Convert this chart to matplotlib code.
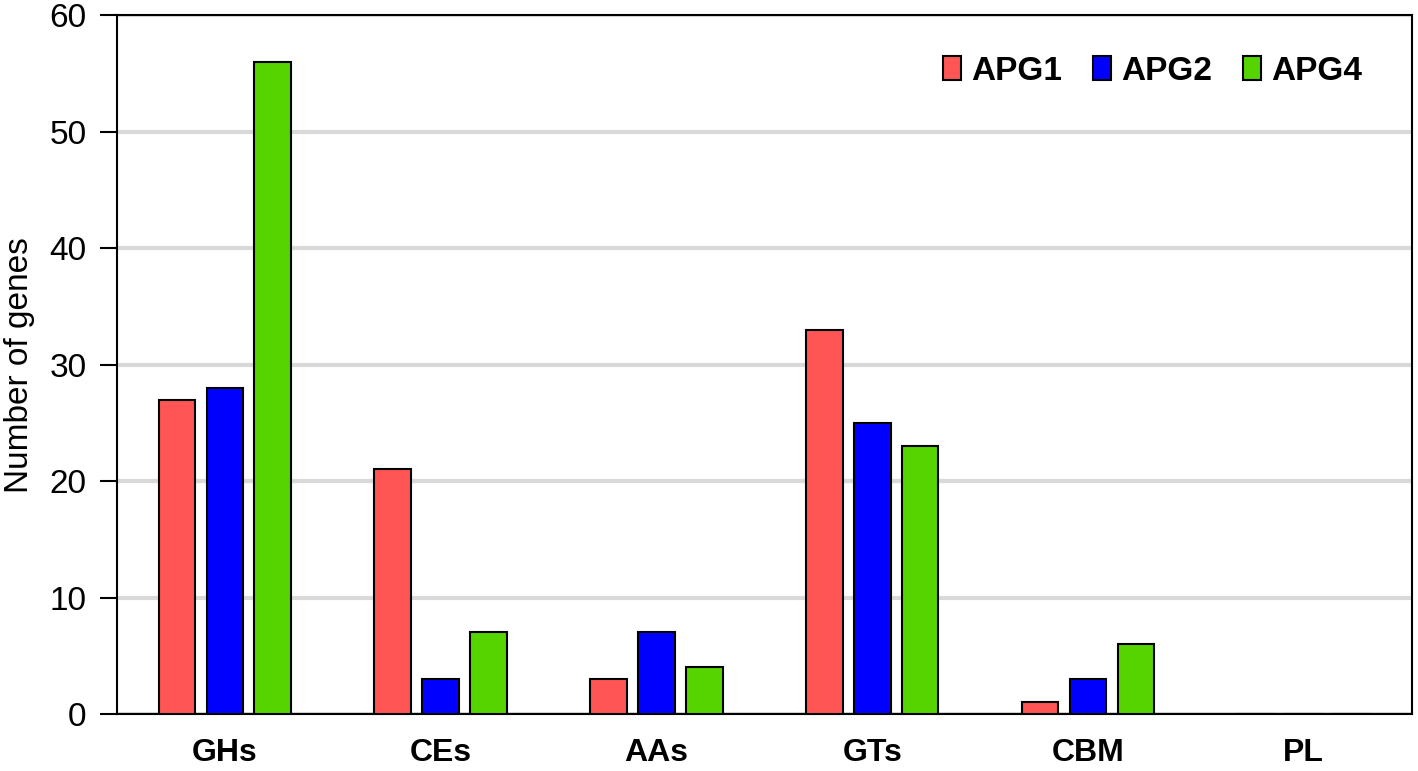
import matplotlib
matplotlib.use("Agg")
import matplotlib.pyplot as plt
import numpy as np

plt.rcParams['font.family'] = ['Liberation Sans', 'DejaVu Sans']

categories = ["GHs", "CEs", "AAs", "GTs", "CBM", "PL"]
apg1 = [27, 21, 3, 33, 1, 0]
apg2 = [28, 3, 7, 25, 3, 0]
apg4 = [56, 7, 4, 23, 6, 0]
series = [("APG1", apg1, "#ff5555"), ("APG2", apg2, "#0000ff"), ("APG4", apg4, "#55d400")]

fig = plt.figure(figsize=(14.18, 7.71), dpi=100)
ax = fig.add_axes([0.0825, 0.074, 0.913, 0.906])

x = np.arange(len(categories))
offset = 0.222
width = 0.17
for i, (name, vals, color) in enumerate(series):
    ax.bar(x + (i - 1) * offset, vals, width, color=color, edgecolor="black",
           linewidth=1.5, label=name, zorder=3)

ax.set_xlim(-0.5, len(categories) - 0.5)
ax.set_ylim(0, 60)
ax.set_yticks(range(0, 61, 10))
ax.yaxis.grid(True, color="#d9d9d9", lw=3, zorder=0)
ax.set_axisbelow(True)
ax.set_xticks(x)
ax.set_xticklabels(categories, fontsize=23, fontweight="bold")
ax.tick_params(axis="x", length=0, pad=17)
ax.tick_params(axis="y", labelsize=24, length=12, width=1.5, pad=10)
for s in ax.spines.values():
    s.set_linewidth(1.5)
ax.set_ylabel("Number of genes", fontsize=24, labelpad=10)

ax.legend(loc="upper right", bbox_to_anchor=(0.985, 0.985), ncol=3, frameon=False,
          prop={"size": 24, "weight": "bold"}, handlelength=0.55, handleheight=0.75,
          handletextpad=0.3, columnspacing=0.92)

fig.savefig("out.png", dpi=100)
